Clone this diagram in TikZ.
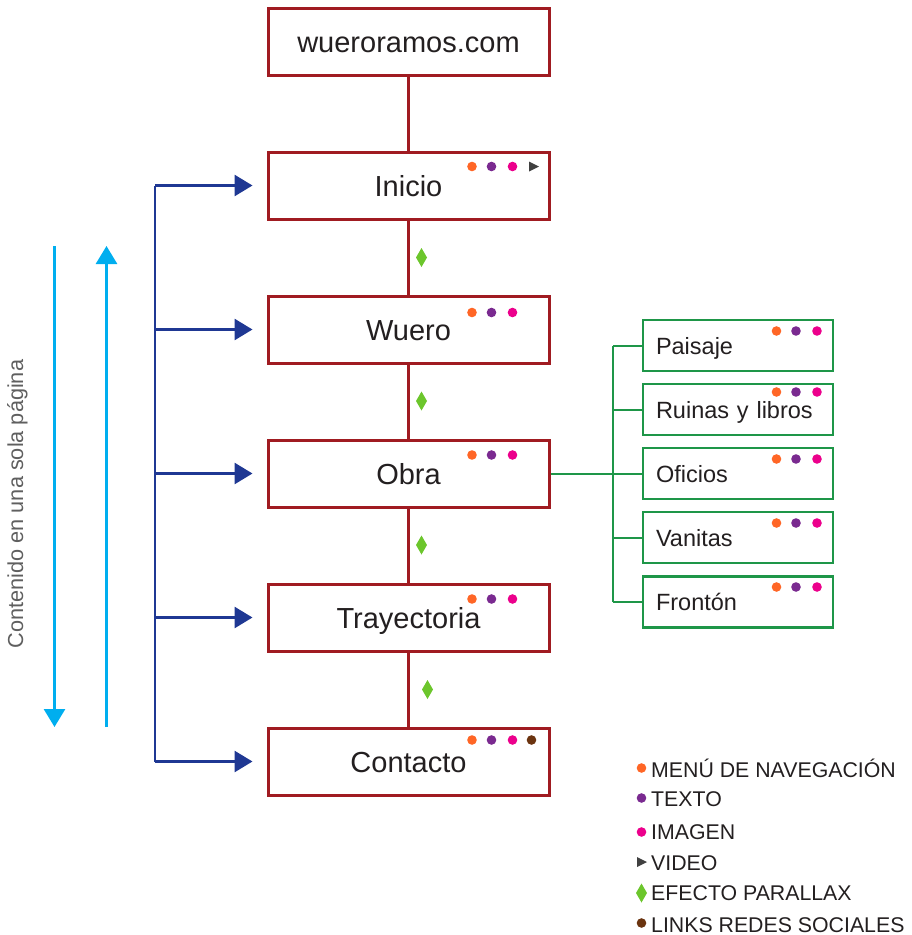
\documentclass[tikz,border=0pt]{standalone}
\usepackage{fontspec}
\setmainfont{Liberation Sans}
\usetikzlibrary{arrows.meta}
\definecolor{boxred}{RGB}{160,27,33}
\definecolor{navy}{RGB}{31,56,147}
\definecolor{skyc}{RGB}{0,174,239}
\definecolor{subgreen}{RGB}{30,150,72}
\definecolor{diagreen}{RGB}{108,198,44}
\definecolor{dotorange}{RGB}{255,102,38}
\definecolor{dotpurple}{RGB}{122,42,144}
\definecolor{dotpink}{RGB}{236,0,140}
\definecolor{dotbrown}{RGB}{107,52,16}
\definecolor{vidgray}{RGB}{64,64,64}
\definecolor{txt}{RGB}{35,31,32}
\definecolor{sidegray}{RGB}{95,95,95}
\newcommand\threedots[2]{%
  \fill[dotorange] (#1,#2) circle (4.8pt);
  \fill[dotpurple] (#1+19.5,#2) circle (4.8pt);
  \fill[dotpink] (#1+40.5,#2) circle (4.8pt);}
\newcommand\pdiamond[2]{%
  \fill[diagreen] (#1,#2-9.5) -- (#1+5.5,#2) -- (#1,#2+9.5) -- (#1-5.5,#2) -- cycle;}
\begin{document}
\begin{tikzpicture}[x=1pt,y=-1pt,
  mainbox/.style={draw=boxred, line width=3pt, fill=white, minimum width=281pt,
    minimum height=67pt, inner sep=0pt, text height=22pt, text depth=0pt,
    text=txt, font=\fontsize{29}{32}\selectfont},
  subbox/.style={draw=subgreen, line width=2.4pt, fill=white, minimum width=190pt,
    minimum height=51pt, text width=164pt, align=left, inner xsep=13pt, inner ysep=0pt,
    text height=17pt, text depth=0pt,
    text=txt, font=\fontsize{23.5}{26}\selectfont},
  redline/.style={draw=boxred, line width=2.4pt},
  navyarrow/.style={draw=navy, line width=2.8pt, -{Triangle[length=18pt,width=21pt]}},
  navyline/.style={draw=navy, line width=2.8pt},
  skyarrow/.style={draw=skyc, line width=2.8pt, -{Triangle[length=18pt,width=21pt]}},
  treeline/.style={draw=subgreen, line width=2pt},
  legtext/.style={anchor=base west, inner sep=0pt, text=txt, font=\fontsize{21.3}{24}\selectfont}
]
\useasboundingbox (0,0) rectangle (912,935);

% main column
\node[mainbox] (top) at (408.5,41.5) {wueroramos.com};
\node[mainbox] (inicio) at (408.5,185.5) {Inicio};
\node[mainbox] (wuero) at (408.5,329.5) {Wuero};
\node[mainbox] (obra) at (408.5,473.5) {Obra};
\node[mainbox] (tray) at (408.5,617.5) {Trayectoria};
\node[mainbox] (contacto) at (408.5,761.5) {Contacto};

\draw[redline] (top.south) -- (inicio.north);
\draw[redline] (inicio.south) -- (wuero.north);
\draw[redline] (wuero.south) -- (obra.north);
\draw[redline] (obra.south) -- (tray.north);
\draw[redline] (tray.south) -- (contacto.north);

% content markers in main boxes
\threedots{472}{166.5}
\fill[vidgray] (529,161.5) -- (539,166.5) -- (529,171.5) -- cycle;
\threedots{472}{312.5}
\threedots{472}{455}
\threedots{472}{599}
\threedots{472}{740}
\fill[dotbrown] (531.5,740) circle (4.8pt);

% parallax diamonds
\pdiamond{421.5}{257.5}
\pdiamond{421.5}{401}
\pdiamond{421.5}{545}
\pdiamond{427.5}{689.5}

% navigation bus
\coordinate (bus) at (155,0);
\draw[navyline] (bus |- inicio.west) -- (bus |- contacto.west);
\draw[navyarrow] (bus |- inicio.west) -- ([xshift=-14pt]inicio.west);
\draw[navyarrow] (bus |- wuero.west) -- ([xshift=-14pt]wuero.west);
\draw[navyarrow] (bus |- obra.west) -- ([xshift=-14pt]obra.west);
\draw[navyarrow] (bus |- tray.west) -- ([xshift=-14pt]tray.west);
\draw[navyarrow] (bus |- contacto.west) -- ([xshift=-14pt]contacto.west);

% scrolling arrows
\coordinate (downtop) at (54.5,246);
\coordinate (downbot) at (54.5,727);
\coordinate (uptop) at (106.5,246);
\coordinate (upbot) at (106.5,727);
\draw[skyarrow] (downtop) -- (downbot);
\draw[skyarrow] (upbot) -- (uptop);
\node[rotate=90, text=sidegray, font=\fontsize{21.7}{24}\selectfont] (side) at (17.5,504) {Contenido en una sola página};

% sub pages
\node[subbox] (paisaje) at (738,345.5) {Paisaje};
\node[subbox] (ruinas) at (738,409.5) {Ruinas y libros};
\node[subbox] (oficios) at (738,473.5) {Oficios};
\node[subbox] (vanitas) at (738,537.5) {Vanitas};
\node[subbox] (fronton) at (738,602) {Frontón};

\coordinate (tree) at (613,0);
\draw[treeline] (obra.east) -- (oficios.west);
\draw[treeline] (tree |- paisaje.west) -- (tree |- fronton.west);
\draw[treeline] (tree |- paisaje.west) -- (paisaje.west);
\draw[treeline] (tree |- ruinas.west) -- (ruinas.west);
\draw[treeline] (tree |- vanitas.west) -- (vanitas.west);
\draw[treeline] (tree |- fronton.west) -- (fronton.west);

\threedots{776.5}{331}
\threedots{776.5}{392}
\threedots{776.5}{459}
\threedots{776.5}{523}
\threedots{776.5}{587}

% legend
\fill[dotorange] (641.5,768) circle (4.8pt);
\fill[dotpurple] (641.5,798) circle (4.8pt);
\fill[dotpink] (641.5,832) circle (4.8pt);
\fill[vidgray] (637,857) -- (647,862) -- (637,867) -- cycle;
\pdiamond{641.5}{893}
\fill[dotbrown] (641.5,923) circle (4.8pt);
\node[legtext] (l1) at (651,777) {MENÚ DE NAVEGACIÓN};
\node[legtext] (l2) at (651,806) {TEXTO};
\node[legtext] (l3) at (651,839) {IMAGEN};
\node[legtext] (l4) at (651,870) {VIDEO};
\node[legtext] (l5) at (651,900) {EFECTO PARALLAX};
\node[legtext] (l6) at (651,932) {LINKS REDES SOCIALES};
\end{tikzpicture}
\end{document}
